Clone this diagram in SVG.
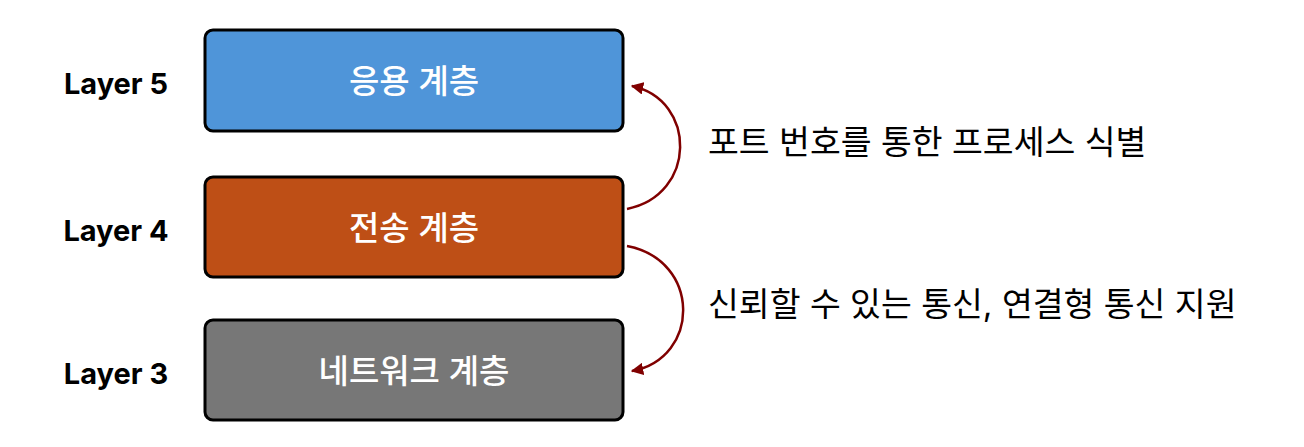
<svg xmlns="http://www.w3.org/2000/svg" width="1304" height="447" viewBox="0 0 1304 447">
<style>
.box{stroke:#000;stroke-width:3}
.bt{font-family:Inter,"Noto Sans CJK KR",sans-serif;font-size:33px;font-weight:500;fill:#fff;text-anchor:middle;dominant-baseline:central}
.lt{font-family:Inter,"Noto Sans CJK KR",sans-serif;font-size:29px;font-weight:bold;fill:#000;text-anchor:middle;dominant-baseline:central}
.rt{font-family:Inter,"Noto Sans CJK KR",sans-serif;font-size:33.5px;fill:#000;dominant-baseline:central}
.conn{fill:none;stroke:#800000;stroke-width:2.5}
</style>
<defs>
<marker id="ah" viewBox="0 0 10 10" refX="9" refY="5" markerWidth="5" markerHeight="5" orient="auto" markerUnits="strokeWidth">
<path d="M0,0 L10,5 L0,10 Z" fill="#800000"/>
</marker>
</defs>
<rect width="1304" height="447" fill="#fff"/>
<g id="layer5">
<rect class="box" x="205" y="30" width="418" height="101" rx="8" fill="#4f95d9"/>
<text class="bt" x="414" y="81">응용 계층</text>
<text class="lt" x="116" y="83">Layer 5</text>
</g>
<g id="layer4">
<rect class="box" x="205" y="177" width="418" height="100" rx="8" fill="#be4f16"/>
<text class="bt" x="414" y="228">전송 계층</text>
<text class="lt" x="116" y="230">Layer 4</text>
</g>
<g id="layer3">
<rect class="box" x="205" y="320" width="418" height="100" rx="8" fill="#777777"/>
<text class="bt" x="414" y="371">네트워크 계층</text>
<text class="lt" x="116" y="373">Layer 3</text>
</g>
<g id="connectors">
<path class="conn" d="M627,209 C697,195 697,100 632,86" marker-end="url(#ah)"/>
<path class="conn" d="M627,246 C701,260 701,358 632,371" marker-end="url(#ah)"/>
</g>
<g id="labels">
<text class="rt" x="708" y="142">포트 번호를 통한 프로세스 식별</text>
<text class="rt" x="708" y="304">신뢰할 수 있는 통신, 연결형 통신 지원</text>
</g>
</svg>
